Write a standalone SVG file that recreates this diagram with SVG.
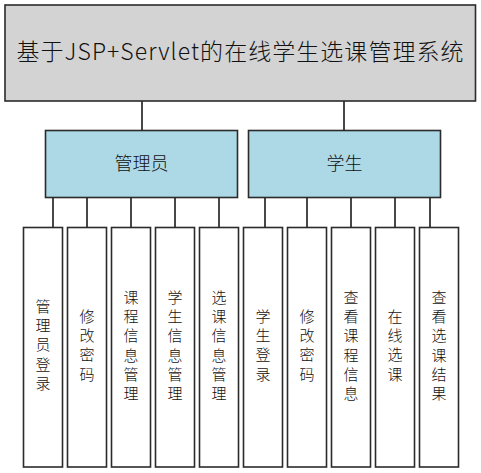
<svg xmlns="http://www.w3.org/2000/svg" width="481" height="473" viewBox="0 0 481 473">
<style>
.box{stroke:#2b2b2b;stroke-width:1.6}
.root{fill:#d3d3d3}
.mid{fill:#add8e6}
.leaf{fill:#ffffff}
.conn line{stroke:#1a1a1a;stroke-width:1.6}
text{font-family:"Microsoft YaHei","Noto Sans CJK SC","Noto Sans",sans-serif;font-weight:300;fill:#111;text-anchor:middle}
.t1{font-size:23px}
.t2{font-size:18px}
.t3{font-size:15px}
</style>
<rect width="481" height="473" fill="#ffffff"/>
<g id="connectors" class="conn">
<line x1="142" y1="101" x2="142" y2="130.5"/>
<line x1="344" y1="101" x2="344" y2="130.5"/>
<line x1="53" y1="197.5" x2="53" y2="227.5"/>
<line x1="87" y1="197.5" x2="87" y2="227.5"/>
<line x1="131" y1="197.5" x2="131" y2="227.5"/>
<line x1="175" y1="197.5" x2="175" y2="227.5"/>
<line x1="219" y1="197.5" x2="219" y2="227.5"/>
<line x1="265" y1="197.5" x2="265" y2="227.5"/>
<line x1="307" y1="197.5" x2="307" y2="227.5"/>
<line x1="351" y1="197.5" x2="351" y2="227.5"/>
<line x1="395" y1="197.5" x2="395" y2="227.5"/>
<line x1="430" y1="197.5" x2="430" y2="227.5"/>
</g>
<g id="root">
<rect class="box root" x="5" y="5" width="470.5" height="96"/>
<text class="t1" x="240" y="60" textLength="447" lengthAdjust="spacing">基于JSP+Servlet的在线学生选课管理系统</text>
</g>
<g id="admin">
<rect class="box mid" x="45.5" y="130.5" width="192" height="67"/>
<text class="t2" x="141.5" y="170">管理员</text>
</g>
<g id="student">
<rect class="box mid" x="248.5" y="130.5" width="192" height="67"/>
<text class="t2" x="344.5" y="170">学生</text>
</g>
<g id="n1"><rect class="box leaf" x="23.5" y="227.5" width="39" height="239.5"/>
<text class="t3"><tspan x="43" y="312">管</tspan><tspan x="43" dy="19.2">理</tspan><tspan x="43" dy="19.2">员</tspan><tspan x="43" dy="19.2">登</tspan><tspan x="43" dy="19.2">录</tspan></text></g>
<g id="n2"><rect class="box leaf" x="67.5" y="227.5" width="39" height="239.5"/>
<text class="t3"><tspan x="87" y="322">修</tspan><tspan x="87" dy="19.2">改</tspan><tspan x="87" dy="19.2">密</tspan><tspan x="87" dy="19.2">码</tspan></text></g>
<g id="n3"><rect class="box leaf" x="111.5" y="227.5" width="39" height="239.5"/>
<text class="t3"><tspan x="131" y="303">课</tspan><tspan x="131" dy="19.2">程</tspan><tspan x="131" dy="19.2">信</tspan><tspan x="131" dy="19.2">息</tspan><tspan x="131" dy="19.2">管</tspan><tspan x="131" dy="19.2">理</tspan></text></g>
<g id="n4"><rect class="box leaf" x="155.5" y="227.5" width="39" height="239.5"/>
<text class="t3"><tspan x="175" y="303">学</tspan><tspan x="175" dy="19.2">生</tspan><tspan x="175" dy="19.2">信</tspan><tspan x="175" dy="19.2">息</tspan><tspan x="175" dy="19.2">管</tspan><tspan x="175" dy="19.2">理</tspan></text></g>
<g id="n5"><rect class="box leaf" x="199.5" y="227.5" width="39" height="239.5"/>
<text class="t3"><tspan x="219" y="303">选</tspan><tspan x="219" dy="19.2">课</tspan><tspan x="219" dy="19.2">信</tspan><tspan x="219" dy="19.2">息</tspan><tspan x="219" dy="19.2">管</tspan><tspan x="219" dy="19.2">理</tspan></text></g>
<g id="n6"><rect class="box leaf" x="243.5" y="227.5" width="39" height="239.5"/>
<text class="t3"><tspan x="263" y="322">学</tspan><tspan x="263" dy="19.2">生</tspan><tspan x="263" dy="19.2">登</tspan><tspan x="263" dy="19.2">录</tspan></text></g>
<g id="n7"><rect class="box leaf" x="287.5" y="227.5" width="39" height="239.5"/>
<text class="t3"><tspan x="307" y="322">修</tspan><tspan x="307" dy="19.2">改</tspan><tspan x="307" dy="19.2">密</tspan><tspan x="307" dy="19.2">码</tspan></text></g>
<g id="n8"><rect class="box leaf" x="331.5" y="227.5" width="39" height="239.5"/>
<text class="t3"><tspan x="351" y="303">查</tspan><tspan x="351" dy="19.2">看</tspan><tspan x="351" dy="19.2">课</tspan><tspan x="351" dy="19.2">程</tspan><tspan x="351" dy="19.2">信</tspan><tspan x="351" dy="19.2">息</tspan></text></g>
<g id="n9"><rect class="box leaf" x="375.5" y="227.5" width="39" height="239.5"/>
<text class="t3"><tspan x="395" y="322">在</tspan><tspan x="395" dy="19.2">线</tspan><tspan x="395" dy="19.2">选</tspan><tspan x="395" dy="19.2">课</tspan></text></g>
<g id="n10"><rect class="box leaf" x="419.5" y="227.5" width="39" height="239.5"/>
<text class="t3"><tspan x="439" y="303">查</tspan><tspan x="439" dy="19.2">看</tspan><tspan x="439" dy="19.2">选</tspan><tspan x="439" dy="19.2">课</tspan><tspan x="439" dy="19.2">结</tspan><tspan x="439" dy="19.2">果</tspan></text></g>
</svg>
